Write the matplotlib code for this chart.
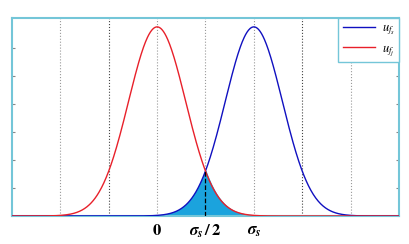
import numpy as np
import matplotlib
matplotlib.use('Agg')
from matplotlib import pyplot as plt

# curve parameters (grid spacing = 1 unit)
mu_j = 0.0      # red curve centre
mu_s = 2.0      # blue curve centre
sigma = 0.59    # common width
x_grid = [-2, -1, 0, 1, 2, 3, 4]
tick_pos = [0, 1, 2]
tick_labels = [r'$\mathbf{0}$',
               r'$\mathbfit{\sigma}_{\mathbfit{s}}\,\mathbf{/\,2}$',
               r'$\mathbfit{\sigma}_{\mathbfit{s}}$']
y_ticks = [0.1, 0.2, 0.3, 0.4, 0.5, 0.6]

plt.rcParams['mathtext.fontset'] = 'custom'
plt.rcParams['mathtext.rm'] = 'STIXGeneral'
plt.rcParams['mathtext.it'] = 'STIXGeneral:italic'
plt.rcParams['mathtext.bf'] = 'STIXGeneral:bold'
plt.rcParams['mathtext.bfit'] = 'STIXGeneral:italic:bold'
plt.rcParams['font.family'] = 'STIXGeneral'

x = np.linspace(-3, 5, 801)
pdf_j = np.exp(-(x - mu_j) ** 2 / (2 * sigma ** 2)) / (sigma * np.sqrt(2 * np.pi))
pdf_s = np.exp(-(x - mu_s) ** 2 / (2 * sigma ** 2)) / (sigma * np.sqrt(2 * np.pi))
overlap = np.minimum(pdf_j, pdf_s)

frame = '#74c6d8'
fig = plt.figure(figsize=(4.10, 2.44), dpi=100)
ax = fig.add_axes([0.0293, 0.1148, 0.9437, 0.8115])

for g in x_grid:
    shade = '#444444' if g in (-1, 3) else '#9a9a9a'
    ax.axvline(g, color=shade, linestyle=':', linewidth=0.8, zorder=0)

ax.fill_between(x, 0, overlap, where=(x >= 0) & (x <= 2), color='#1ba3dd', zorder=1)
ax.plot(x, pdf_s, color='#1010c0', linewidth=1.0, label=r'$u_{f_s}$', zorder=3)
ax.plot(x, pdf_j, color='#e8202a', linewidth=1.0, label=r'$u_{f_j}$', zorder=3)
cross = np.interp(1.0, x, overlap)
ax.plot([1, 1], [0, cross], color='black', linestyle='--', linewidth=0.9, zorder=4)

ax.set_xlim(-3, 5)
ax.set_ylim(0, 0.708)
ax.set_xticks(tick_pos)
ax.set_xticklabels(tick_labels, fontsize=12)
ax.set_yticks(y_ticks)
ax.set_yticklabels([])
ax.tick_params(axis='x', length=0, pad=5)
ax.tick_params(axis='y', direction='in', length=2.5, color='#888888', right=True)

for sp in ax.spines.values():
    sp.set_color(frame)
    sp.set_linewidth(1.5)

leg = ax.legend(loc='upper right', borderaxespad=0, fontsize=9, handlelength=2.6,
                handletextpad=0.5, frameon=True, fancybox=False, framealpha=1,
                borderpad=0.35, labelspacing=0.45)
leg.get_frame().set_edgecolor(frame)
leg.get_frame().set_linewidth(1.0)

fig.savefig('out.png', dpi=100)
